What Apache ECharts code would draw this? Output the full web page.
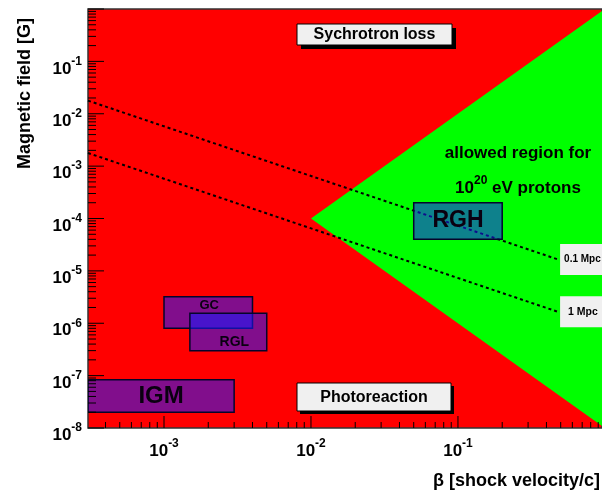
<!DOCTYPE html>
<html>
<head>
<meta charset="utf-8">
<script src="https://cdn.jsdelivr.net/npm/echarts@6/dist/echarts.min.js"></script>
<style>
  html, body { margin: 0; padding: 0; background: #ffffff; }
  #chart { width: 602px; height: 496px; }
</style>
</head>
<body>
<div id="chart"></div>
<script>
// Axis ranges: shock velocity β and magnetic field B [G]
const betaRange = [3.04e-4, 0.955];
const fieldRange = [1e-8, 1];

// Decades that carry a labelled major tick
const betaDecades = [1e-3, 1e-2, 1e-1];
const fieldDecades = [1e-8, 1e-7, 1e-6, 1e-5, 1e-4, 1e-3, 1e-2, 1e-1, 1];

// Corners of the region allowed for 10^20 eV protons
const allowedBeta = [0.01, 1, 1];
const allowedField = [1e-4, 1, 1e-8];

// Confinement limits for two source sizes
const limitNames = ['0.1 Mpc', '1 Mpc'];
const limitBeta = [3.04e-4, 0.48];
const limitField01 = [0.0178, 1.65e-5];
const limitField1 = [0.00178, 1.65e-6];

// Source classes with their β and B ranges
const sourceNames = ['IGM', 'GC', 'RGL', 'RGH'];
const sourceBetaMin = [1e-4, 1e-3, 1.5e-3, 0.05];
const sourceBetaMax = [3e-3, 4e-3, 5e-3, 0.2];
const sourceFieldMin = [2e-8, 8e-7, 3e-7, 4e-5];
const sourceFieldMax = [8.3e-8, 3.2e-6, 1.55e-6, 2e-4];

const FONT = '"Liberation Sans", Arial, Helvetica, sans-serif';

// label look of each source box: font size and where the name sits
const sourceLabelStyle = {
  IGM: { size: 24, place: 'center' },
  GC:  { size: 13, place: 'top' },
  RGL: { size: 14, place: 'bottom' },
  RGH: { size: 23, place: 'center' }
};

// tick list: [β, B, axis(0=x,1=y), major(1)/minor(0)]
const tickData = [];
betaDecades.forEach(v => tickData.push([v, fieldRange[0], 0, 1]));
for (let d = 1e-4; d < 1.5; d *= 10) {
  for (let m = 2; m <= 9; m++) {
    const v = d * m;
    if (v > betaRange[0] && v < betaRange[1]) tickData.push([v, fieldRange[0], 0, 0]);
  }
}
fieldDecades.forEach(v => tickData.push([betaRange[0], v, 1, 1]));
for (let d = 1e-8; d < 0.5; d *= 10) {
  for (let m = 2; m <= 9; m++) {
    const v = d * m;
    if (v > fieldRange[0] && v < fieldRange[1]) tickData.push([betaRange[0], v, 1, 0]);
  }
}

function powerLabel(v) {
  const l = Math.log10(v);
  const e = Math.round(l);
  if (Math.abs(l - e) > 1e-6) return '';
  if (e === 0) return '';
  return '{b|10}{s|' + e + '}';
}
const labelRich = {
  b: { fontFamily: FONT, fontWeight: 'bold', fontSize: 17, color: '#000', lineHeight: 22, verticalAlign: 'bottom' },
  s: { fontFamily: FONT, fontWeight: 'bold', fontSize: 12, color: '#000', lineHeight: 12, verticalAlign: 'top' }
};

const chart = echarts.init(document.getElementById('chart'), null, { renderer: 'canvas' });

const option = {
  animation: false,
  backgroundColor: '#ffffff',
  grid: {
    left: 88, right: 0, top: 9, bottom: 68,
    show: true, backgroundColor: '#ff0000', borderColor: '#333333', borderWidth: 1.5,
    containLabel: false, outerBoundsMode: 'none'
  },
  xAxis: {
    type: 'log', logBase: 10, min: betaRange[0], max: betaRange[1],
    axisLine: { show: false }, axisTick: { show: false }, splitLine: { show: false },
    axisLabel: { formatter: powerLabel, rich: labelRich, margin: 10, showMinLabel: true, showMaxLabel: true }
  },
  yAxis: {
    type: 'log', logBase: 10, min: fieldRange[0], max: fieldRange[1],
    axisLine: { show: false }, axisTick: { show: false }, splitLine: { show: false },
    axisLabel: { formatter: powerLabel, rich: labelRich, margin: 6, padding: [10, 0, 0, 0] }
  },
  series: [
    {
      // allowed region
      type: 'custom', z: 1, clip: true, silent: true,
      data: allowedBeta.map((b, i) => [b, allowedField[i]]),
      renderItem(params, api) {
        if (params.dataIndex !== 0) return null;
        const pts = allowedBeta.map((b, i) => api.coord([b, allowedField[i]]));
        const cs = params.coordSys;
        return {
          type: 'polygon',
          shape: { points: pts },
          style: { fill: '#00ff00' },
          clipPath: { type: 'rect', shape: { x: cs.x, y: cs.y, width: cs.width, height: cs.height } }
        };
      }
    },
    {
      name: limitNames[0], type: 'line', z: 2, symbol: 'none', silent: true,
      data: limitBeta.map((b, i) => [b, limitField01[i]]),
      lineStyle: { color: '#000', width: 2, type: [3, 3] },
      endLabel: {
        show: true, formatter: limitNames[0], distance: 2,
        fontFamily: FONT, fontWeight: 'bold', fontSize: 10, color: '#000',
        backgroundColor: '#f0f0f0', lineHeight: 31, padding: [0, 10, 0, 4], align: 'left'
      }
    },
    {
      name: limitNames[1], type: 'line', z: 2, symbol: 'none', silent: true,
      data: limitBeta.map((b, i) => [b, limitField1[i]]),
      lineStyle: { color: '#000', width: 2, type: [3, 3] },
      endLabel: {
        show: true, formatter: limitNames[1], distance: 2,
        fontFamily: FONT, fontWeight: 'bold', fontSize: 10.5, color: '#000',
        backgroundColor: '#f0f0f0', lineHeight: 31, padding: [0, 10, 0, 8], align: 'left'
      }
    },
    {
      // source boxes, translucent blue over the region colours
      type: 'custom', z: 3, clip: true, silent: true,
      data: sourceNames.map((n, i) => [sourceBetaMin[i], sourceFieldMin[i], sourceBetaMax[i], sourceFieldMax[i]]),
      renderItem(params, api) {
        const i = params.dataIndex;
        const cs = params.coordSys;
        const p0 = api.coord([api.value(0), api.value(3)]);
        const p1 = api.coord([api.value(2), api.value(1)]);
        const x0 = Math.max(p0[0], cs.x), x1 = p1[0];
        const y0 = p0[1], y1 = p1[1];
        const st = sourceLabelStyle[sourceNames[i]];
        let ty = (y0 + y1) / 2;
        if (st.place === 'top') ty = y0 + 9;
        if (st.place === 'bottom') ty = y1 - 8;
        const tx = (x0 + x1) / 2 + (st.place === 'top' ? 1 : st.place === 'bottom' ? 6 : 0);
        return {
          type: 'group',
          children: [
            {
              type: 'rect',
              shape: { x: x0, y: y0, width: x1 - x0, height: y1 - y0 },
              style: { fill: 'rgba(26,26,255,0.55)', stroke: '#05052a', lineWidth: 1.5 }
            },
            {
              type: 'text', x: tx, y: ty,
              style: {
                text: sourceNames[i], font: 'bold ' + st.size + 'px ' + FONT,
                fill: '#0a0010', align: 'center', verticalAlign: 'middle'
              }
            }
          ]
        };
      }
    },
    {
      // inner ticks along the bottom and left axes
      type: 'custom', z: 5, silent: true,
      data: tickData,
      encode: { x: 0, y: 1 },
      renderItem(params, api) {
        const p = api.coord([api.value(0), api.value(1)]);
        const isX = api.value(2) === 0;
        const major = api.value(3) === 1;
        const len = isX ? (major ? 12 : 6) : (major ? 16 : 8);
        return {
          type: 'line',
          shape: isX
            ? { x1: p[0], y1: p[1], x2: p[0], y2: p[1] - len }
            : { x1: p[0], y1: p[1], x2: p[0] + len, y2: p[1] },
          style: { stroke: '#000', lineWidth: 1 }
        };
      }
    }
  ],
  graphic: [
    {
      type: 'group', x: 297, y: 24, z: 10,
      children: [
        { type: 'rect', shape: { x: 4, y: 4, width: 155, height: 21 }, style: { fill: '#000' } },
        { type: 'rect', shape: { x: 0, y: 0, width: 155, height: 21 }, style: { fill: '#f0f0f0', stroke: '#000', lineWidth: 1 } },
        { type: 'text', x: 77.5, y: 11, style: { text: 'Sychrotron loss', font: 'bold 16px ' + FONT, fill: '#000', align: 'center', verticalAlign: 'middle' } }
      ]
    },
    {
      type: 'group', x: 297, y: 383, z: 10,
      children: [
        { type: 'rect', shape: { x: 3, y: 3, width: 154, height: 28 }, style: { fill: '#000' } },
        { type: 'rect', shape: { x: 0, y: 0, width: 154, height: 28 }, style: { fill: '#f0f0f0', stroke: '#000', lineWidth: 1 } },
        { type: 'text', x: 77, y: 15, style: { text: 'Photoreaction', font: 'bold 16px ' + FONT, fill: '#000', align: 'center', verticalAlign: 'middle' } }
      ]
    },
    {
      type: 'text', x: 518, y: 153, z: 10,
      style: { text: 'allowed region for', font: 'bold 17px ' + FONT, fill: '#000', align: 'center', verticalAlign: 'middle' }
    },
    {
      type: 'text', x: 518, y: 186, z: 10,
      style: {
        text: '{b|10}{s|20}{b| eV protons}', align: 'center', verticalAlign: 'middle',
        rich: {
          b: { fontFamily: FONT, fontWeight: 'bold', fontSize: 17, fill: '#000', lineHeight: 22, verticalAlign: 'bottom' },
          s: { fontFamily: FONT, fontWeight: 'bold', fontSize: 12, fill: '#000', lineHeight: 12, verticalAlign: 'top' }
        }
      }
    },
    {
      type: 'text', x: 25, y: 18, rotation: Math.PI / 2, z: 10,
      style: { text: 'Magnetic field [G]', font: 'bold 18px ' + FONT, fill: '#000', align: 'right', verticalAlign: 'middle' }
    },
    {
      type: 'text', x: 600, y: 481, z: 10,
      style: { text: 'β [shock velocity/c]', font: 'bold 18px ' + FONT, fill: '#000', align: 'right', verticalAlign: 'middle' }
    }
  ]
};

chart.setOption(option);
</script>
</body>
</html>
